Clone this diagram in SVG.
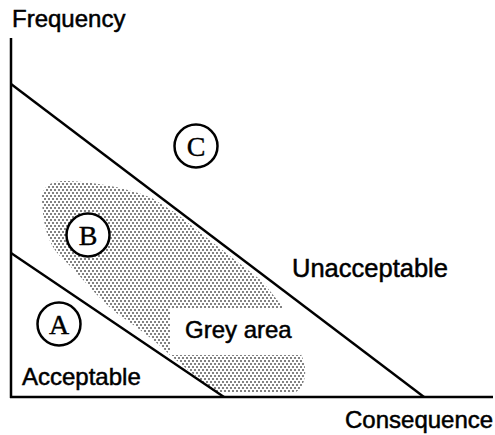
<svg xmlns="http://www.w3.org/2000/svg" width="495" height="435" viewBox="0 0 495 435">
  <style>
    .lbl { font-family: "Liberation Sans", Arial, sans-serif; font-size: 24px; fill: #000; stroke: #000; stroke-width: 0.5; }
    .ax { stroke: #000; stroke-width: 2.5; fill: none; }
    .ln { stroke: #000; stroke-width: 2.4; fill: none; }
    .circ { fill: #fff; stroke: #000; stroke-width: 2.5; }
    .let { font-family: "Liberation Serif", "Times New Roman", serif; font-size: 28px; fill: #000; stroke: #000; stroke-width: 0.4; text-anchor: middle; }
  </style>
  <defs>
    <pattern id="stipple" width="4" height="6" patternUnits="userSpaceOnUse">
      <rect x="0.3" y="0.3" width="1.4" height="1.4" fill="#000"/>
      <rect x="2.3" y="3.3" width="1.4" height="1.4" fill="#000"/>
    </pattern>
  </defs>
  <rect width="495" height="435" fill="#fff"/>

  <g id="grey-area">
    <path d="M 42,200 C 41,186 52,180 68,181 C 92,182 122,186 152,198 L 177,214 L 212,242 L 262,281 L 282,306 L 298,350 C 308,362 308,385 296,392 L 216,393 L 170,355 C 155,340 135,326 115,312 C 95,295 80,275 62,258 C 48,245 43,225 42,200 Z" fill="url(#stipple)"/>
    <rect x="170" y="309" width="131" height="46" fill="#fff"/>
    <text class="lbl" x="185" y="338">Grey area</text>
  </g>

  <g id="connectors">
    <line class="ax" x1="11" y1="38" x2="11" y2="398"/>
    <line class="ax" x1="10" y1="397" x2="493" y2="397"/>
    <line class="ln" x1="11" y1="84" x2="424" y2="397"/>
    <line class="ln" x1="11" y1="253" x2="224" y2="397"/>
  </g>

  <g id="axis-frequency">
    <text class="lbl" x="12" y="27">Frequency</text>
  </g>
  <g id="axis-consequence">
    <text class="lbl" x="345" y="428">Consequence</text>
  </g>
  <g id="label-unacceptable">
    <text class="lbl" x="292" y="277" style="font-size:25.5px">Unacceptable</text>
  </g>
  <g id="label-acceptable">
    <text class="lbl" x="22" y="385">Acceptable</text>
  </g>

  <g id="node-A">
    <circle class="circ" cx="59" cy="324" r="21.5"/>
    <text class="let" x="59" y="334">A</text>
  </g>
  <g id="node-B">
    <circle class="circ" cx="88" cy="235" r="21.5"/>
    <text class="let" x="88" y="245">B</text>
  </g>
  <g id="node-C">
    <circle class="circ" cx="196" cy="146" r="21.5"/>
    <text class="let" x="196" y="156">C</text>
  </g>
</svg>
